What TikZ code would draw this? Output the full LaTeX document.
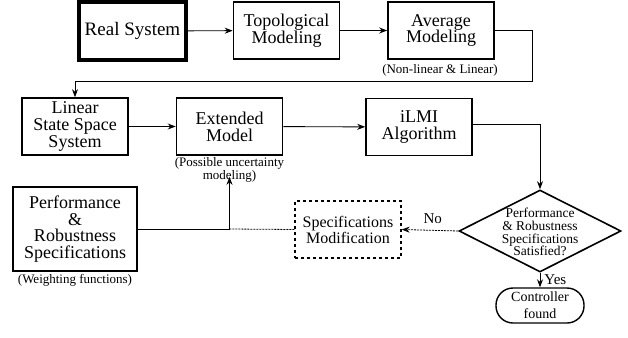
\documentclass[tikz,border=0pt]{standalone}
\usepackage{fontspec}
\setmainfont{Liberation Serif}
\usetikzlibrary{arrows.meta,shapes.geometric,calc}
\begin{document}
\begin{tikzpicture}[x=1pt,y=-1pt,
  box/.style={draw,line width=1.6pt,minimum width=106pt,minimum height=57pt,inner sep=1pt,align=center,font=\fontsize{18}{16.8}\selectfont},
  thickbox/.style={box,line width=3.2pt},
  dbox/.style={draw,dashed,line width=1.3pt,minimum width=106pt,minimum height=57pt,inner sep=1pt,align=center,font=\fontsize{16}{16}\selectfont},
  note/.style={inner sep=0pt,align=center,font=\fontsize{13}{13.5}\selectfont},
  flow/.style={line width=0.9pt,-{Stealth[length=8pt,width=6pt]}},
  plain/.style={line width=0.9pt},
  dotline/.style={line width=0.8pt,dash pattern=on 2pt off 1pt}]
\useasboundingbox (0,0) rectangle (628,337);
\node[thickbox,minimum width=107pt,minimum height=58pt,font=\fontsize{19}{17}\selectfont] (rs) at (132.5,31) {Real System};
\node[box] (topo) at (286.5,30.5) {Topological\\Modeling};
\node[box] (avg) at (441,30.5) {Average\\Modeling};
\node[note] (avgl) at (440,70) {(Non-linear \& Linear)};
\node[box] (lin) at (75,126.5) {Linear\\State Space\\System};
\node[box] (ext) at (229.5,126.5) {Extended\\Model};
\node[note] (extl) at (229.5,170) {(Possible uncertainty\\modeling)};
\node[box] (ilmi) at (419,127) {iLMI\\Algorithm};
\node[box,minimum width=124pt,minimum height=84pt] (perf) at (75,229) {Performance\\\&\\Robustness\\Specifications};
\node[note] (perfl) at (75,280) {(Weighting functions)};
\node[dbox] (smod) at (348,229.5) {Specifications\\Modification};
\node[draw,diamond,line width=1.6pt,minimum width=162pt,minimum height=82pt,inner sep=0pt] (dia) at (540,231) {};
\node[align=center,inner sep=0pt,font=\fontsize{13.5}{12.8}\selectfont] (diat) at (540,232) {Performance\\\& Robustness\\Specifications\\Satisfied?};
\node[draw,line width=1.4pt,rounded corners=17pt,minimum width=88pt,minimum height=35pt,inner sep=0pt,align=center,font=\fontsize{14}{17}\selectfont] (ctrl) at (540,305.5) {Controller\\found};
\coordinate (jn) at (229.5,229);
\coordinate (c1) at (532,30.5);
\coordinate (c2) at (532,81);
\coordinate (c3) at (75,81);
\coordinate (c4) at (540,124);
\draw[flow] (rs) -- (topo);
\draw[flow] (topo) -- (avg);
\draw[flow] (avg.east) -- (c1) -- (c2) -- (c3) -- (lin.north);
\draw[flow] (lin) -- (ext);
\draw[flow] (ext) -- (ilmi);
\draw[flow] (ilmi.east |- c4) -- (c4) -- (dia.north);
\draw[flow] (dia.south) -- node[right,pos=0.45,inner sep=4pt,font=\fontsize{15}{15}\selectfont] (yes) {Yes} (ctrl.north);
\draw[dotline,-{Stealth[length=8pt,width=6pt]}] (dia.west) -- node[above,pos=0.45,inner sep=6pt,font=\fontsize{15}{15}\selectfont] (no) {No} (smod.east);
\draw[dotline] (smod.west) -- (jn);
\draw[plain] (perf.east) -- (jn);
\draw[flow] (jn) -- ([yshift=6pt]extl.south);
\end{tikzpicture}
\end{document}
